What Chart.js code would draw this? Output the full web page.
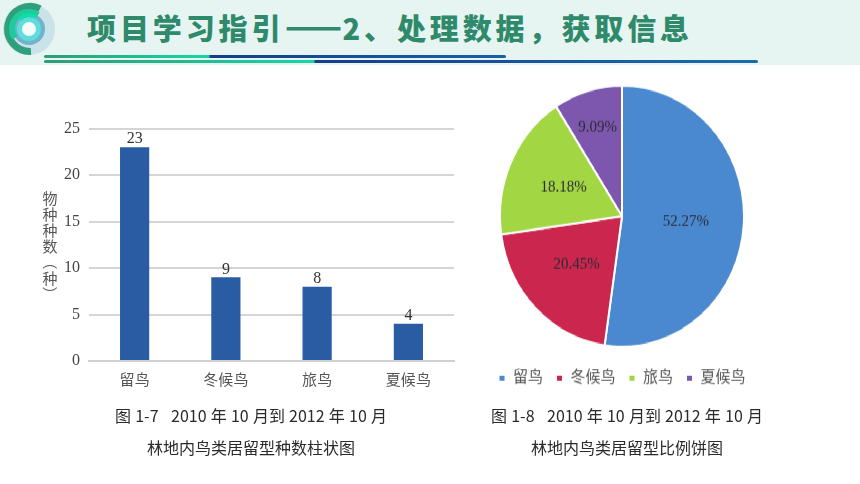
<!DOCTYPE html>
<html lang="zh">
<head>
<meta charset="utf-8">
<title>林地内鸟类居留型</title>
<script src="https://cdn.jsdelivr.net/npm/chart.js@4"></script>
<style>
  html, body { margin: 0; padding: 0; background: #fff; }
  #page { position: relative; width: 860px; height: 484px; overflow: hidden; font-family: "Noto Sans CJK SC", sans-serif; filter: blur(0.4px); }
  #band { position: absolute; left: 0; top: 0; width: 860px; height: 65px; background: #e7f5f2; }
  #logo { position: absolute; left: 0; top: 0; }
  #title { position: absolute; left: 87px; top: 7px; font-size: 29px; line-height: 40px; font-weight: 900; letter-spacing: 3.9px; color: #2f8a6c; white-space: nowrap; }
  #title span { text-shadow: 0 1px 0 #2f8a6c, 0 -1px 0 #2f8a6c; letter-spacing: 0; }
  .rule { position: absolute; left: 44px; height: 3px; border-radius: 2px; }
  #rule1 { top: 55px; width: 462px; background: linear-gradient(90deg, #2f9c78 0, #16d6a4 165px, #123f8c 166px, #1a5fa8 100%); }
  #rule2 { top: 60px; width: 714px; background: linear-gradient(90deg, #2f9c78 0, #16d6a4 270px, #123f8c 271px, #1a6cb0 100%); }
  #barBox { position: absolute; left: 30px; top: 110px; width: 430px; height: 290px; }
  #pieBox { position: absolute; left: 472px; top: 76px; width: 300px; height: 300px; transform: scaleY(1.07); transform-origin: top left; }
  #yTitle { position: absolute; left: 41px; top: 190px; width: 18px; font-size: 15px; line-height: 16px; color: #555; text-align: center; }
  #yTitle span { display: block; height: 16px; }
  #yTitle .par { transform: rotate(90deg); }
  .cap { position: absolute; font-size: 16px; line-height: 20px; word-spacing: 0.6px; color: #2a2a2a; white-space: nowrap; transform: translateX(-50%); }
</style>
</head>
<body>
<div id="page">
  <div id="band"></div>
  <svg id="logo" width="60" height="60" viewBox="0 0 60 60" fill="none">
    <circle cx="29" cy="29" r="26" fill="#c9e3e8"/>
    <path d="M40 8.7 A22.5 22.5 0 1 0 31 51.4" stroke="#2f9f7c" stroke-width="7"/>
    <circle cx="29" cy="29" r="16" fill="#6fb3cc"/>
    <path d="M38 15 A16.5 16.5 0 0 0 15 38" stroke="#1fcb9c" stroke-width="6"/>
    <circle cx="29" cy="29" r="12" fill="#5fdcdc"/>
    <path d="M36 17 A13.5 13.5 0 0 0 20 19" stroke="#0fe0a8" stroke-width="4"/>
    <circle cx="29" cy="29" r="7" fill="#f4fbfa"/>
  </svg>
  <div id="title">项目学习指引<span>——</span>2、处理数据，获取信息</div>
  <div class="rule" id="rule1"></div>
  <div class="rule" id="rule2"></div>

  <div id="barBox"><canvas id="grafico-de-barras" width="430" height="290"></canvas></div>
  <div id="yTitle"><span>物</span><span>种</span><span>种</span><span>数</span><span class="par">（</span><span>种</span><span class="par">）</span></div>
  <div id="pieBox"><canvas id="grafico-de-pizza" width="300" height="300"></canvas></div>

  <div class="cap" style="left:251px;top:405px">图 1-7&nbsp;&nbsp; 2010 年 10 月到 2012 年 10 月</div>
  <div class="cap" style="left:251px;top:437px">林地内鸟类居留型种数柱状图</div>
  <div class="cap" style="left:627px;top:405px">图 1-8&nbsp;&nbsp; 2010 年 10 月到 2012 年 10 月</div>
  <div class="cap" style="left:627px;top:437px">林地内鸟类居留型比例饼图</div>
</div>

<script>
// Dados
const categorias = ["留鸟", "冬候鸟", "旅鸟", "夏候鸟"];
const especies = [23, 9, 8, 4];
const percentuais = [52.27, 20.45, 18.18, 9.09];
const coresPizza = ["#4a89cf", "#cb264d", "#a3d643", "#7d57ae"];

const fonteSerif = '"Liberation Serif", "Noto Sans CJK SC", serif';

// Números em cima das barras
const rotulosBarras = {
  id: "rotulosBarras",
  afterDatasetsDraw(chart) {
    const ctx = chart.ctx;
    ctx.save();
    ctx.font = "16px " + fonteSerif;
    ctx.fillStyle = "#333";
    ctx.textAlign = "center";
    ctx.textBaseline = "bottom";
    chart.getDatasetMeta(0).data.forEach((barra, i) => {
      ctx.fillText(especies[i], barra.x, barra.y);
    });
    ctx.restore();
  },
};

// Percentuais dentro das fatias
const rotulosPizza = {
  id: "rotulosPizza",
  afterDatasetsDraw(chart) {
    const ctx = chart.ctx;
    ctx.save();
    ctx.font = "15px " + fonteSerif;
    ctx.fillStyle = "#2b2b33";
    ctx.textAlign = "center";
    ctx.textBaseline = "middle";
    chart.getDatasetMeta(0).data.forEach((fatia, i) => {
      const pos = fatia.tooltipPosition();
      const dx = pos.x - fatia.x;
      const dy = pos.y - fatia.y;
      // a fatia menor tem o texto mais perto da borda
      const fator = i === 3 ? 1.42 : 1.05;
      ctx.fillText(percentuais[i].toFixed(2) + "%", fatia.x + dx * fator, fatia.y + dy * fator);
    });
    ctx.restore();
  },
};

new Chart(document.getElementById("grafico-de-barras").getContext("2d"), {
  type: "bar",
  data: {
    labels: categorias,
    datasets: [{
      data: especies,
      backgroundColor: "#2a5ca3",
      barPercentage: 0.32,
      categoryPercentage: 1,
    }],
  },
  options: {
    responsive: false,
    animation: false,
    layout: { padding: { top: 18, right: 6, bottom: 0, left: 0 } },
    plugins: { legend: { display: false }, tooltip: { enabled: false } },
    scales: {
      x: {
        grid: { display: false },
        border: { color: "#cfd0d2", width: 2 },
        ticks: { color: "#555", padding: 3, font: { size: 15, family: fonteSerif } },
        afterFit(scale) { scale.height = 39; },
      },
      y: {
        min: 0,
        max: 25,
        grid: { color: "#d4d5d7", lineWidth: 2, drawTicks: false },
        border: { display: false },
        ticks: { stepSize: 5, color: "#444", padding: 9, font: { size: 16, family: fonteSerif } },
        afterFit(scale) { scale.width = 59; },
      },
    },
  },
  plugins: [rotulosBarras],
});

new Chart(document.getElementById("grafico-de-pizza").getContext("2d"), {
  type: "pie",
  data: {
    labels: categorias,
    datasets: [{
      data: percentuais,
      backgroundColor: coresPizza,
      borderColor: "#fff",
      borderWidth: 2,
    }],
  },
  options: {
    responsive: false,
    animation: false,
    radius: 122,
    plugins: {
      tooltip: { enabled: false },
      legend: {
        position: "bottom",
        labels: {
          boxWidth: 7,
          boxHeight: 7,
          padding: 13,
          color: "#555",
          font: { size: 15, family: fonteSerif },
        },
      },
    },
  },
  plugins: [rotulosPizza],
});
</script>
</body>
</html>
